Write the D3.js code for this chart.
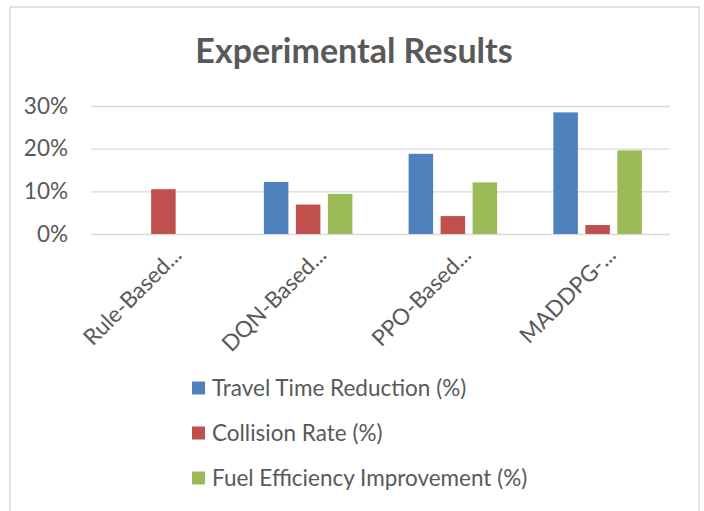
<!DOCTYPE html>
<html lang="en">
<head>
    <meta charset="UTF-8">
    <title>Experimental Results</title>
    <script src="https://d3js.org/d3.v7.min.js"></script>
    <style>
        body {
            margin: 0;
            overflow: hidden;
            background: #ffffff;
            font-family: 'Lato', sans-serif;
        }

        svg {
            display: block;
        }

        .tick line {
            stroke: #d9d9d9;
            stroke-width: 1.3;
        }

        .tick text, .cat-label, .legend-label {
            fill: #595959;
            font-size: 22.5px;
        }

        .title {
            fill: #595959;
            font-size: 34px;
            font-weight: bold;
        }
    </style>
</head>
<body>
    <svg></svg>

    <script>
        // Data
        const categories = ["Rule-Based...", "DQN-Based...", "PPO-Based...", "MADDPG-..."];
        const seriesNames = ["Travel Time Reduction (%)", "Collision Rate (%)", "Fuel Efficiency Improvement (%)"];
        const travelTime = [0, 0.122, 0.188, 0.285];
        const collisionRate = [0.105, 0.069, 0.042, 0.021];
        const fuelEfficiency = [0, 0.094, 0.121, 0.196];
        const yTicks = [0, 0.1, 0.2, 0.3];
        const colors = ["#4f81bd", "#c0504d", "#9bbb59"];

        const width = 704, height = 511;
        const svg = d3.select("svg")
            .attr("width", width)
            .attr("height", height);

        // Chart frame (runs past the bottom edge, like the reference)
        svg.append("rect")
            .attr("x", 10)
            .attr("y", 7)
            .attr("width", 689)
            .attr("height", 530)
            .attr("fill", "#fff")
            .attr("stroke", "#d9d9d9")
            .attr("stroke-width", 1.5);

        svg.append("text")
            .attr("class", "title")
            .attr("x", 354)
            .attr("y", 63)
            .attr("text-anchor", "middle")
            .text("Experimental Results");

        const plot = { left: 91, right: 670, top: 106, bottom: 234 };

        const x = d3.scaleBand()
            .domain(categories)
            .range([plot.left, plot.right]);

        const xSeries = d3.scaleBand()
            .domain(seriesNames)
            .range([0, 96])
            .paddingInner(0.234)
            .paddingOuter(0.117);

        const y = d3.scaleLinear()
            .domain([0, 0.3])
            .range([plot.bottom, plot.top]);

        // Gridlines + tick labels
        const yAxis = svg.append("g")
            .attr("transform", `translate(${plot.left},0)`)
            .call(d3.axisLeft(y)
                .tickValues(yTicks)
                .tickFormat(d3.format(".0%"))
                .tickSize(-(plot.right - plot.left))
                .tickPadding(23));
        yAxis.select(".domain").remove();
        yAxis.selectAll("text").attr("font-family", "Lato, sans-serif").attr("font-size", 22.5);

        // Bars
        const rows = categories.map((c, i) => ({
            cat: c,
            values: [travelTime[i], collisionRate[i], fuelEfficiency[i]]
        }));

        const group = svg.append("g").selectAll("g")
            .data(rows)
            .enter().append("g")
            .attr("transform", d => `translate(${x(d.cat) + x.bandwidth() / 2 - 48},0)`);

        group.selectAll("rect")
            .data(d => d.values.map((v, j) => ({ name: seriesNames[j], value: v, color: colors[j] })))
            .enter().append("rect")
            .filter(d => d.value > 0)
            .attr("x", d => xSeries(d.name))
            .attr("width", xSeries.bandwidth())
            .attr("y", d => y(d.value))
            .attr("height", d => y(0) - y(d.value))
            .attr("fill", d => d.color);

        // Rotated category labels
        svg.append("g").selectAll("text")
            .data(categories)
            .enter().append("text")
            .attr("class", "cat-label")
            .attr("text-anchor", "end")
            .attr("dy", "0.35em")
            .attr("transform", d => `translate(${x(d) + x.bandwidth() / 2 + 14},251) rotate(-45)`)
            .text(d => d);

        // Legend
        const legend = svg.append("g").selectAll("g")
            .data(seriesNames)
            .enter().append("g")
            .attr("transform", (d, i) => `translate(192,${388 + i * 45})`);

        legend.append("rect")
            .attr("y", -6.5)
            .attr("width", 13)
            .attr("height", 13)
            .attr("fill", (d, i) => colors[i]);

        legend.append("text")
            .attr("class", "legend-label")
            .attr("x", 20)
            .attr("dy", "0.35em")
            .text(d => d);
    </script>
</body>
</html>
